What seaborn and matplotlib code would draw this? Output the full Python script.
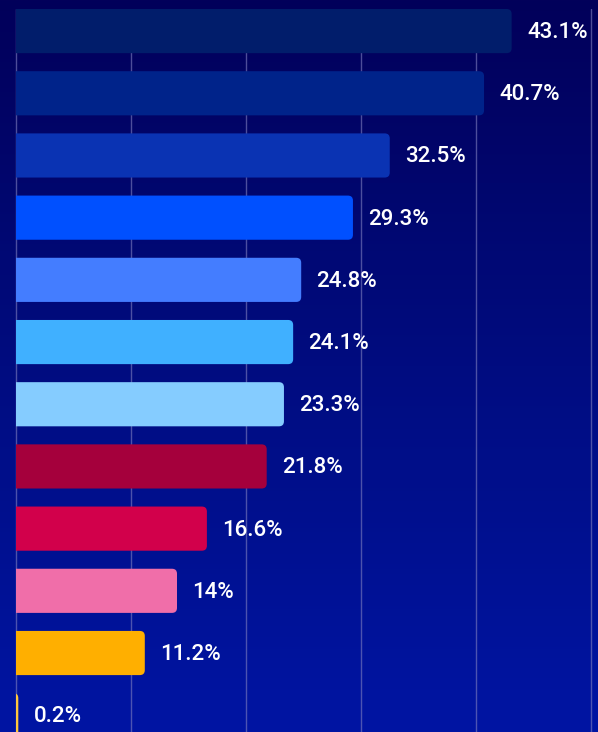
import numpy as np
import pandas as pd
import matplotlib
matplotlib.use("Agg")
import matplotlib.pyplot as plt
import matplotlib.colors as mcolors
from matplotlib.patches import FancyBboxPatch, Rectangle
import seaborn as sns

# Dữ liệu
categories = ["c01", "c02", "c03", "c04", "c05", "c06",
              "c07", "c08", "c09", "c10", "c11", "c12"]
values = [43.1, 40.7, 32.5, 29.3, 24.8, 24.1, 23.3, 21.8, 16.6, 14.0, 11.2, 0.2]
labels = ["43.1%", "40.7%", "32.5%", "29.3%", "24.8%", "24.1%",
          "23.3%", "21.8%", "16.6%", "14%", "11.2%", "0.2%"]
bar_colors = ["#011d6b", "#00238a", "#0a33b3", "#0050ff", "#447dff", "#40b0ff",
              "#85ccff", "#a5003c", "#d2004b", "#f06ea9", "#ffaf00", "#ffc83c"]

df = pd.DataFrame({"cat": categories, "value": values})

sns.set_theme(style="white")
plt.rcParams["font.family"] = ["Roboto", "DejaVu Sans"]

W, H = 598, 732
fig = plt.figure(figsize=(W / 100, H / 100), dpi=100)

# Nền gradient
bg = fig.add_axes([0, 0, 1, 1])
grad = np.linspace(0, 1, 256)[:, None]
cmap = mcolors.LinearSegmentedColormap.from_list("bg", ["#02005a", "#000c80", "#0015a3"])
bg.imshow(grad, aspect="auto", cmap=cmap, extent=[0, 1, 0, 1], origin="upper")
bg.set_axis_off()

# Trục chính
top_px = 9
ax = fig.add_axes([0, 0, 1, (H - top_px) / H])
ax.patch.set_alpha(0)
sns.barplot(data=df, x="value", y="cat", hue="cat", palette=bar_colors,
            saturation=1, legend=False, width=0.71, ax=ax, zorder=3)

x_left = -16 / 115 * 10
x_right = x_left + W / 115 * 10
ax.set_xlim(x_left, x_right)
ax.set_ylim(11.27, -0.355)

# Bo góc cho các cột
px_x = 115 / 10
px_y = 62.2
clip_rect = Rectangle((0, -5), 100, 30, transform=ax.transData)
for p in list(ax.patches):
    x, y = p.get_x(), p.get_y()
    w, h = p.get_width(), p.get_height()
    fc = p.get_facecolor()
    p.remove()
    r = 5 / px_x
    box = FancyBboxPatch((x - 1, y), w + 1, h,
                         boxstyle=f"round,pad=0,rounding_size={r}",
                         mutation_aspect=px_x / px_y,
                         facecolor=fc, edgecolor="none", zorder=3)
    ax.add_patch(box)
    box.set_clip_path(clip_rect)

# Lưới dọc
for gx in [0, 10, 20, 30, 40, 50]:
    ax.axvline(gx, color="#8080c0", alpha=0.6, linewidth=1.0, zorder=1)

# Nhãn giá trị
for i, (v, lab) in enumerate(zip(values, labels)):
    ax.annotate(lab, (v, i), xytext=(11, -1), textcoords="offset points",
                ha="left", va="center", color="white", fontsize=16,
                fontweight="medium", zorder=4)

ax.set_xticks([])
ax.set_yticks([])
ax.set_xlabel("")
ax.set_ylabel("")
for s in ax.spines.values():
    s.set_visible(False)

fig.savefig("out.png", dpi=100)
